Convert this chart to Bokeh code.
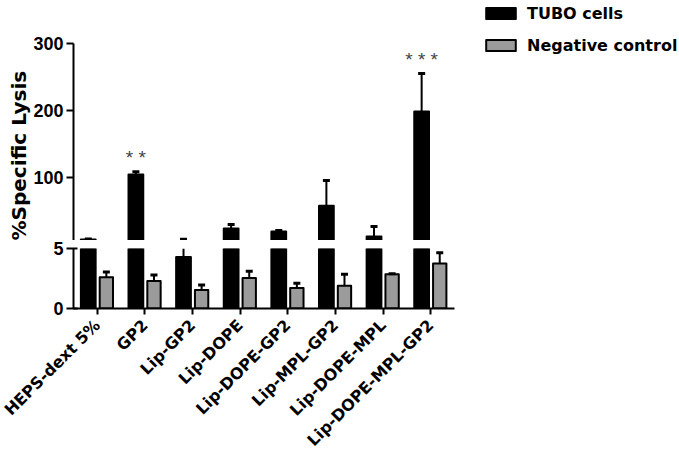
import numpy as np
from bokeh.plotting import figure
from bokeh.models import (ColumnDataSource, FixedTicker, Range1d,
                          Legend, LegendItem, Title)
from bokeh.transform import dodge
from bokeh.layouts import column
from bokeh.embed import file_html
from bokeh.resources import INLINE
from bokeh.core.properties import value

# ---------------- data ----------------
groups = ["HEPS-dext 5%", "GP2", "Lip-GP2", "Lip-DOPE", "Lip-DOPE-GP2",
          "Lip-MPL-GP2", "Lip-DOPE-MPL", "Lip-DOPE-MPL-GP2"]
tubo = [6.5, 104, 4.3, 23, 18.5, 57, 11, 198]
tubo_err = [0.8, 4, 2.7, 6, 1.5, 38, 15, 57]
neg = [2.6, 2.3, 1.55, 2.55, 1.7, 1.9, 2.85, 3.75]
neg_err = [0.45, 0.5, 0.4, 0.55, 0.4, 0.95, 0.05, 0.9]
stars = ["", "* *", "", "", "", "", "", "* * *"]
series_names = ["TUBO cells", "Negative control"]
axis_break = 5
upper_top = 300
upper_ticks = [100, 200, 300]
lower_ticks = [0, 5]

BLACK = "#000000"
GRAY = "#9b9b9b"
FONT = "Liberation Sans"
FONT2 = "DejaVu Sans"
OFF = 0.19

n = len(groups)
centers = [i + 0.5 for i in range(n)]


def split(vals, errs):
    up_bar = dict(x=[], bottom=[], top=[])
    lo_bar = dict(x=[], top=[])
    up_err = dict(x=[], lo=[], hi=[])
    lo_err = dict(x=[], lo=[], hi=[])
    lo_cap = dict(x=[], hi=[])
    for c, v, e in zip(centers, vals, errs):
        lo_bar["x"].append(c)
        lo_bar["top"].append(min(v, axis_break))
        if v > axis_break:
            up_bar["x"].append(c)
            up_bar["bottom"].append(axis_break)
            up_bar["top"].append(v)
        if v + e > axis_break:
            up_err["x"].append(c)
            up_err["lo"].append(max(v, axis_break))
            up_err["hi"].append(v + e)
        if v < axis_break:
            lo_err["x"].append(c)
            lo_err["lo"].append(v)
            lo_err["hi"].append(min(v + e, axis_break))
            if v + e <= axis_break:
                lo_cap["x"].append(c)
                lo_cap["hi"].append(v + e)
    return up_bar, lo_bar, up_err, lo_err, lo_cap


W = 679
BL = 73
CAT_PX = 47.625            # pixels per category
x_end = (W - BL) / CAT_PX  # frames run to the right edge; the x axis is bounded to the groups
UP_H = 240
Y_PER_PX = (upper_top - axis_break) / 197.0
y_end_up = axis_break + UP_H * Y_PER_PX

p_up = figure(width=W, height=UP_H, x_range=Range1d(0, x_end),
              y_range=Range1d(axis_break, y_end_up),
              x_axis_location=None, output_backend="svg", toolbar_location=None,
              min_border_left=BL, min_border_right=0, min_border_top=0,
              min_border_bottom=0)
p_lo = figure(width=W, height=219, x_range=p_up.x_range, y_range=Range1d(0, axis_break),
              output_backend="svg", toolbar_location=None,
              min_border_left=BL, min_border_right=0, min_border_top=8,
              min_border_bottom=150)

for p in (p_up, p_lo):
    p.outline_line_color = None
    p.xgrid.grid_line_color = None
    p.ygrid.grid_line_color = None
    p.background_fill_color = "white"
    p.border_fill_color = "white"
    for ax in p.yaxis:
        ax.axis_line_width = 2
        ax.major_tick_line_width = 2
        ax.major_tick_out = 7
        ax.major_tick_in = 0
        ax.minor_tick_line_color = None
        ax.major_label_text_font = FONT
        ax.major_label_text_font_style = "bold"
        ax.major_label_text_font_size = "18px"
        ax.major_label_text_color = "black"
        ax.major_label_standoff = 3

p_up.yaxis.ticker = FixedTicker(ticks=upper_ticks)
p_up.yaxis.bounds = (axis_break, upper_top)

ylab = Title(text="%Specific Lysis", align="left", offset=0,
             text_font=FONT2, text_font_style="bold", text_font_size="20px",
             text_color="black", standoff=0)
p_up.add_layout(ylab, "left")

p_lo.yaxis.ticker = FixedTicker(ticks=lower_ticks)
p_lo.yaxis.major_tick_in = 4
ax = p_lo.xaxis[0]
ax.bounds = (0, n)
ax.ticker = FixedTicker(ticks=centers)
ax.major_label_overrides = {c: g for c, g in zip(centers, groups)}
ax.minor_tick_line_color = None
ax.axis_line_width = 2
ax.major_tick_line_width = 2
ax.major_tick_out = 6
ax.major_tick_in = 0
ax.major_label_orientation = np.pi / 4
ax.major_label_text_font = FONT2
ax.major_label_text_font_style = "bold"
ax.major_label_text_font_size = "16px"
ax.major_label_text_color = "black"
ax.major_label_standoff = 8

bar_renderers = []
for vals, errs, off, fill, w in [(tubo, tubo_err, -OFF, BLACK, 0.31),
                                 (neg, neg_err, OFF, GRAY, 0.28)]:
    up_bar, lo_bar, up_err, lo_err, lo_cap = split(vals, errs)
    p_up.vbar(x=dodge("x", off), bottom="bottom", top="top", width=w,
              source=ColumnDataSource(up_bar), fill_color=fill,
              line_color="black", line_width=2, line_join="round")
    # hidden copy of the full series, used only as the legend swatch
    r = p_up.vbar(x=dodge("x", off), top="v", width=w,
                  source=ColumnDataSource(dict(x=centers, v=vals)), fill_color=fill,
                  line_color="black", line_width=2, line_join="round", visible=False)
    bar_renderers.append(r)
    p_lo.vbar(x=dodge("x", off), bottom=0, top="top", width=w,
              source=ColumnDataSource(lo_bar), fill_color=fill,
              line_color="black", line_width=2, line_join="round")
    p_up.segment(x0=dodge("x", off), x1=dodge("x", off),
                 y0="lo", y1="hi", source=ColumnDataSource(up_err),
                 line_color="black", line_width=2)
    p_up.scatter(x=dodge("x", off), y="hi", marker="dash", size=7,
                 line_width=3, line_color="black", source=ColumnDataSource(up_err))
    p_lo.segment(x0=dodge("x", off), x1=dodge("x", off),
                 y0="lo", y1="hi", source=ColumnDataSource(lo_err),
                 line_color="black", line_width=2)
    p_lo.scatter(x=dodge("x", off), y="hi", marker="dash", size=7,
                 line_width=3, line_color="black", source=ColumnDataSource(lo_cap))

# significance stars
star_src = ColumnDataSource(dict(x=centers, y=[v + e for v, e in zip(tubo, tubo_err)],
                                 t=stars))
p_up.text(x=dodge("x", -OFF), y="y", text="t", source=star_src,
          text_align="center", text_baseline="middle", y_offset=-14,
          text_font=value(FONT), text_font_size="19px", text_color="#444444")

legend = Legend(items=[LegendItem(label=series_names[0], renderers=[bar_renderers[0]]),
                       LegendItem(label=series_names[1], renderers=[bar_renderers[1]])],
                location=(409, 185), orientation="vertical",
                border_line_color=None, background_fill_alpha=0,
                inactive_fill_alpha=0,
                label_text_font=FONT2, label_text_font_style="bold",
                label_text_font_size="16px", label_text_color="black",
                glyph_width=37, glyph_height=14, label_standoff=8,
                spacing=12, padding=0, margin=0, label_height=20)
p_up.add_layout(legend)

layout = column(p_up, p_lo)
open("out.html", "w").write(file_html(layout, INLINE))
